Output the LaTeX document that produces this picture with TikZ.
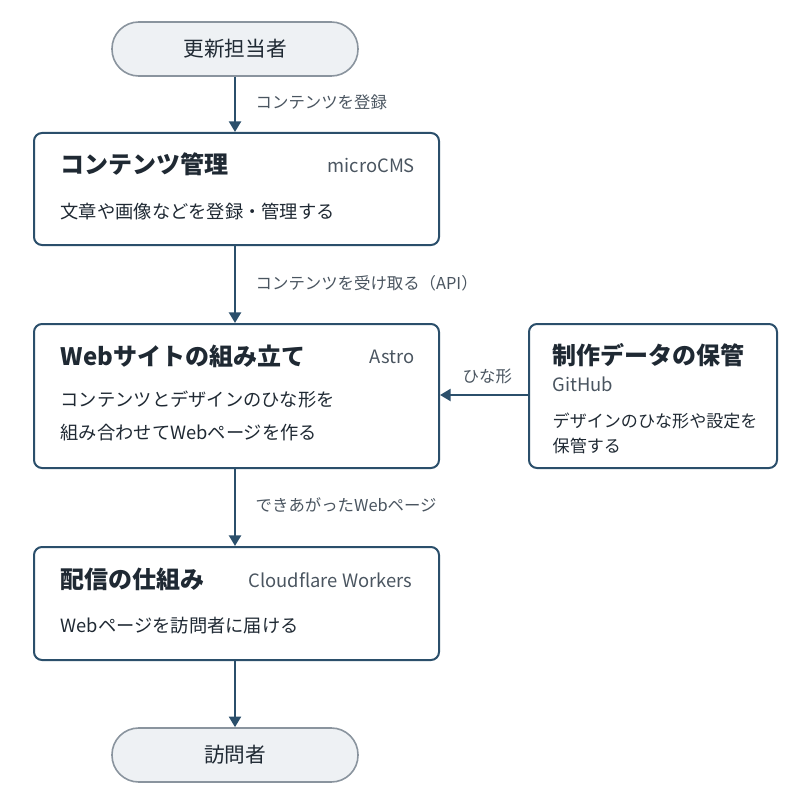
\documentclass[tikz,border=0pt]{standalone}
\usepackage{fontspec}
\setmainfont{Noto Sans CJK JP}
\usetikzlibrary{positioning,arrows.meta}
\definecolor{edge}{HTML}{2B4F6B}
\definecolor{pillfill}{HTML}{EEF1F4}
\definecolor{pillline}{HTML}{8A949E}
\definecolor{labelgray}{HTML}{4A5560}
\definecolor{ink}{HTML}{1F2933}
\tikzset{
  pill/.style={draw=pillline, fill=pillfill, line width=1.2pt, rounded corners=20pt,
               minimum width=184.5pt, minimum height=40.5pt, font=\fontsize{15.5}{18}\selectfont, text=ink},
  panel/.style={draw=edge, line width=1.5pt, rounded corners=6pt, anchor=north west},
  title/.style={anchor=west, font=\fontsize{18}{21}\selectfont\bfseries, text=ink},
  tool/.style={anchor=west, font=\fontsize{13.8}{16}\selectfont, text=labelgray},
  body/.style={anchor=west, font=\fontsize{13.7}{16}\selectfont, text=ink},
  flow/.style={draw=edge, line width=1.8pt, -{Triangle[length=8pt,width=9pt]}},
  tag/.style={anchor=west, font=\fontsize{12.3}{14}\selectfont, text=labelgray}
}
\begin{document}
\begin{tikzpicture}[x=0.75pt,y=-0.75pt]
  \useasboundingbox (0,0) rectangle (810,806);
  % start and end
  \node[pill] (editor) at (235,49) {更新担当者};
  \node[pill] (visitor) at (235,755) {訪問者};
  % boxes
  \node[panel, minimum width=303.75pt, minimum height=84pt] (cms) at (33,132) {};
  \node[panel, minimum width=303.75pt, minimum height=108pt] (astro) at (33,323) {};
  \node[panel, minimum width=186pt, minimum height=108pt] (repo) at (528,323) {};
  \node[panel, minimum width=303.75pt, minimum height=84.75pt] (cdn) at (33,546) {};
  % texts
  \node[title] (cmsTitle) at (56,164) {コンテンツ管理};
  \node[tool] at (323,165) {microCMS};
  \node[body] at (56,212) {文章や画像などを登録・管理する};
  \node[title] (astroTitle) at (56,356) {Webサイトの組み立て};
  \node[tool] at (365,357) {Astro};
  \node[body] at (56,400) {コンテンツとデザインのひな形を};
  \node[body] at (56,433) {組み合わせてWebページを作る};
  \node[title] (repoTitle) at (548,355) {制作データの保管};
  \node[tool] at (548,384) {GitHub};
  \node[body, font=\fontsize{12.8}{15}\selectfont] at (548,421) {デザインのひな形や設定を};
  \node[body, font=\fontsize{12.8}{15}\selectfont] at (548,446) {保管する};
  \node[title] (cdnTitle) at (56,579) {配信の仕組み};
  \node[tool] at (244,580) {Cloudflare Workers};
  \node[body] at (56,626) {Webページを訪問者に届ける};
  % connectors
  \draw[flow] (editor.south) -- (cms.north -| editor.south);
  \draw[flow] (cms.south -| editor.south) -- (astro.north -| editor.south);
  \draw[flow] (astro.south -| editor.south) -- (cdn.north -| editor.south);
  \draw[flow] (cdn.south -| editor.south) -- (visitor.north);
  \draw[flow] (repo.west |- 0,395) -- (astro.east |- 0,395);
  % labels
  \node[tag] at (251,102) {コンテンツを登録};
  \node[tag] at (251,283) {コンテンツを受け取る（API）};
  \node[tag] at (458,376) {ひな形};
  \node[tag] at (251,505) {できあがったWebページ};
\end{tikzpicture}
\end{document}
